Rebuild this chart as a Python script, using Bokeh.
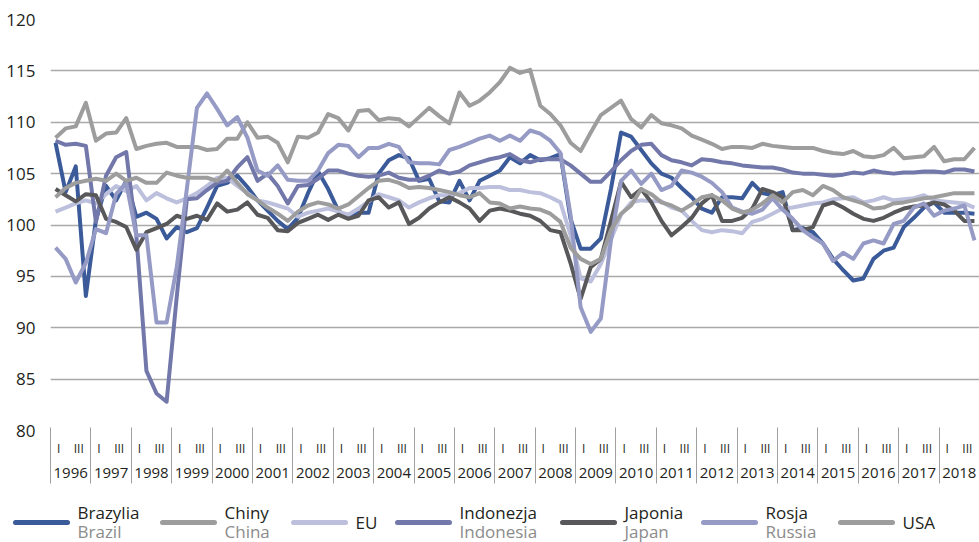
from bokeh.plotting import figure
from bokeh.models import FixedTicker, LinearAxis, Range1d
from bokeh.embed import file_html
from bokeh.resources import INLINE
from bokeh.core.properties import value

years = list(range(1996, 2019))
quarter_labels = {0: "I", 2: "III"}

brazylia = [108.0, 103.2, 105.7, 93.1, 100.5, 103.8, 102.4, 104.3, 100.8, 101.2, 100.6, 98.7,
            99.8, 99.3, 99.7, 101.7, 103.8, 104.1, 104.8, 103.7, 102.4, 101.4, 100.4, 99.6,
            100.7, 103.1, 105.2, 103.5, 101.4, 100.7, 101.2, 101.2, 105.0, 106.3, 106.8, 106.5,
            104.3, 104.5, 102.3, 102.2, 104.3, 102.4, 104.3, 104.8, 105.3, 106.6, 106.0, 106.8,
            106.3, 106.5, 106.9, 100.6, 97.7, 97.7, 98.7, 103.5, 109.0, 108.6, 107.3, 106.0,
            105.0, 104.6, 103.6, 102.7, 101.6, 101.2, 102.7, 102.7, 102.6, 104.1, 103.1, 102.9,
            103.2, 99.5, 99.7, 99.3, 98.2, 96.7, 95.6, 94.6, 94.8, 96.7, 97.5, 97.8,
            99.8, 100.7, 101.7, 102.2, 101.2, 101.2, 101.2, 101.1]
chiny = [108.5, 109.4, 109.6, 111.9, 108.2, 108.9, 109.0, 110.4, 107.4, 107.7, 107.9, 108.0,
         107.6, 107.6, 107.6, 107.3, 107.4, 108.4, 108.4, 110.0, 108.5, 108.6, 108.0, 106.1,
         108.6, 108.5, 109.0, 110.8, 110.4, 109.2, 111.1, 111.2, 110.2, 110.4, 110.3, 109.6,
         110.5, 111.4, 110.6, 109.9, 112.9, 111.6, 112.1, 112.9, 113.9, 115.3, 114.8, 115.1,
         111.6, 110.8, 109.7, 108.0, 107.2, 109.0, 110.7, 111.4, 112.1, 110.3, 109.5, 110.7,
         109.9, 109.7, 109.4, 108.7, 108.3, 107.9, 107.4, 107.6, 107.6, 107.5, 107.9, 107.7,
         107.6, 107.5, 107.5, 107.5, 107.2, 107.0, 106.9, 107.2, 106.7, 106.6, 106.8, 107.5,
         106.5, 106.6, 106.7, 107.6, 106.2, 106.4, 106.4, 107.5]
eu = [101.3, 101.7, 102.1, 102.4, 102.1, 103.0, 103.8, 103.3, 103.8, 102.4, 103.1, 102.6,
      102.2, 102.6, 103.1, 103.8, 104.6, 104.6, 103.8, 103.1, 102.4, 102.2, 101.9, 101.6,
      100.8, 101.2, 101.4, 101.6, 101.3, 101.0, 101.6, 102.3, 103.0, 102.7, 102.4, 101.7,
      102.2, 102.6, 102.9, 102.9, 103.1, 103.6, 103.6, 103.7, 103.7, 103.4, 103.4, 103.2,
      103.1, 102.7, 102.2, 99.0, 94.8, 94.5, 96.2, 98.6, 101.0, 102.2, 102.4, 102.3,
      102.3, 101.7, 101.4, 100.4, 99.5, 99.3, 99.5, 99.4, 99.2, 100.3, 100.6, 101.1,
      101.6, 101.7, 101.9, 102.1, 102.2, 102.5, 102.6, 102.7, 102.2, 102.4, 102.7, 102.4,
      102.5, 102.6, 102.9, 102.4, 102.3, 102.2, 102.1, 101.7]
indonezja = [108.2, 107.8, 107.9, 107.7, 100.3, 104.8, 106.6, 107.1, 99.0, 85.8, 83.6, 82.8,
             93.0, 102.5, 102.6, 103.4, 104.1, 104.3, 105.6, 106.6, 104.3, 105.0, 103.8, 102.1,
             103.8, 103.9, 104.5, 105.3, 105.3, 105.0, 104.8, 104.7, 104.8, 105.1, 104.6, 104.4,
             104.4, 104.8, 105.3, 105.0, 105.2, 105.8, 106.1, 106.4, 106.6, 106.9, 106.3, 106.1,
             106.4, 106.4, 106.4, 105.8, 105.0, 104.2, 104.2, 105.2, 106.3, 107.2, 107.8, 107.9,
             106.8, 106.3, 106.1, 105.8, 106.4, 106.3, 106.1, 106.0, 105.8, 105.7, 105.6, 105.6,
             105.4, 105.1, 105.0, 105.0, 104.9, 104.8, 104.9, 105.1, 105.0, 105.3, 105.1, 105.0,
             105.1, 105.1, 105.2, 105.2, 105.1, 105.4, 105.4, 105.2]
japonia = [103.5, 102.9, 102.3, 103.0, 102.9, 100.6, 100.3, 99.8, 97.6, 99.3, 99.7, 100.1,
           100.9, 100.6, 100.9, 100.5, 102.1, 101.3, 101.5, 102.2, 101.0, 100.7, 99.5, 99.4,
           100.2, 100.6, 101.0, 100.5, 101.0, 100.6, 100.9, 102.4, 102.7, 101.7, 102.2, 100.1,
           100.7, 101.6, 102.2, 102.7, 102.2, 101.6, 100.4, 101.4, 101.6, 101.4, 101.1, 100.9,
           100.4, 99.5, 99.3, 96.3, 92.8, 95.9, 96.7, 100.4, 104.2, 102.7, 103.5, 102.2,
           100.4, 99.0, 99.8, 100.7, 102.1, 102.9, 100.4, 100.4, 100.7, 101.6, 103.5, 103.2,
           102.7, 99.5, 99.5, 99.8, 101.9, 102.2, 101.7, 101.1, 100.6, 100.4, 100.7, 101.2,
           101.6, 101.8, 101.9, 102.2, 102.0, 101.4, 100.4, 100.4]
rosja = [97.8, 96.7, 94.4, 96.3, 99.6, 99.2, 103.0, 104.1, 99.0, 99.0, 90.5, 90.5,
         95.9, 103.5, 111.4, 112.8, 111.3, 109.7, 110.5, 108.5, 105.3, 104.8, 105.8, 104.4,
         104.3, 104.3, 105.3, 107.0, 107.8, 107.7, 106.6, 107.5, 107.5, 107.9, 107.6, 106.1,
         106.0, 106.0, 105.9, 107.3, 107.6, 108.0, 108.4, 108.7, 108.2, 108.7, 108.2, 109.2,
         108.9, 108.2, 107.0, 101.0, 92.0, 89.6, 90.9, 98.5, 104.3, 105.3, 104.0, 105.0,
         103.4, 103.8, 105.3, 105.1, 104.7, 104.1, 103.2, 101.7, 101.3, 101.1, 101.5, 102.6,
         101.5, 100.6, 99.5, 98.8, 98.2, 96.5, 97.3, 96.7, 98.2, 98.5, 98.2, 100.1,
         100.4, 101.7, 102.1, 100.9, 101.4, 101.6, 101.9, 98.5]
usa = [102.7, 103.6, 104.1, 104.3, 104.5, 104.3, 105.0, 104.3, 104.6, 104.1, 104.1, 105.1,
       104.8, 104.6, 104.6, 104.6, 104.3, 105.3, 104.1, 103.0, 102.4, 101.7, 101.1, 100.4,
       101.3, 101.9, 102.2, 102.0, 101.6, 102.0, 102.8, 103.6, 104.3, 104.4, 104.1, 103.6,
       103.7, 103.6, 103.4, 103.2, 102.9, 102.7, 103.1, 102.2, 102.1, 101.6, 101.8, 101.6,
       101.5, 101.1, 100.3, 97.8, 96.7, 96.2, 96.7, 99.5, 101.1, 101.9, 103.5, 103.0,
       102.2, 101.9, 101.4, 102.0, 102.7, 102.9, 102.4, 101.6, 101.2, 101.5, 102.1, 102.9,
       102.2, 103.2, 103.4, 102.9, 103.8, 103.4, 102.7, 102.4, 102.1, 101.6, 101.7, 102.1,
       102.2, 102.4, 102.6, 102.7, 102.9, 103.1, 103.1, 103.1]

series_pl = ["Brazylia", "Chiny", "EU", "Indonezja", "Japonia", "Rosja", "USA"]
series_en = ["Brazil", "China", "", "Indonesia", "Japan", "Russia", ""]
series_vals = [brazylia, chiny, eu, indonezja, japonia, rosja, usa]
colors = ["#3b5a99", "#9d9d9d", "#bcc0dc", "#7378ab", "#58585a", "#969bc6", "#9d9d9d"]
y_ticks = [80, 85, 90, 95, 100, 105, 110, 115, 120]

n = len(years) * 4
xq = list(range(n))
for s in series_vals:
    assert len(s) == n, len(s)

FONT = "Open Sans"
TXT = "#231f20"
W = 979
MAIN_H, LEG_H = 490, 52

p = figure(width=W, height=MAIN_H, output_backend="svg", toolbar_location=None,
           x_range=Range1d(-0.5, n - 0.5), y_range=Range1d(80, 120),
           min_border_left=50, min_border_right=0, min_border_top=19, min_border_bottom=60)
p.outline_line_color = None
p.xgrid.visible = False
p.ygrid.grid_line_color = "#a9a9a9"
p.ygrid.grid_line_width = 1.5

# y axis
p.yaxis.ticker = FixedTicker(ticks=y_ticks)
p.yaxis.axis_line_color = None
p.yaxis.major_tick_line_color = None
p.yaxis.minor_tick_line_color = None
p.yaxis.major_label_standoff = 9
p.yaxis.major_label_text_font = FONT
p.yaxis.major_label_text_font_size = "17px"
p.yaxis.major_label_text_color = TXT

# quarter axis (I / III); its range is nudged so the labels sit like the original's
p.extra_x_ranges = {"qr": Range1d(-0.8, n - 0.8),
                    "yr": Range1d(years[0] - 0.5, years[-1] + 0.5)}
q_ticks = [4 * k + q for k in range(len(years)) for q in quarter_labels]
qa = p.xaxis[0]
qa.x_range_name = "qr"
qa.ticker = FixedTicker(ticks=q_ticks)
qa.major_label_overrides = {t: quarter_labels[t % 4] for t in q_ticks}
qa.axis_line_color = None
qa.major_tick_line_color = None
qa.minor_tick_line_color = None
qa.major_tick_out = 0
qa.major_tick_in = 0
qa.major_label_standoff = 9
qa.major_label_text_font = FONT
qa.major_label_text_font_size = "12px"
qa.major_label_text_color = TXT

# year axis
ya = LinearAxis(x_range_name="yr", ticker=FixedTicker(ticks=years))
ya.axis_line_color = None
ya.major_tick_line_color = None
ya.minor_tick_line_color = None
ya.major_tick_out = 0
ya.major_tick_in = 0
ya.major_label_standoff = 8
ya.major_label_text_font = FONT
ya.major_label_text_font_size = "15px"
ya.major_label_text_color = TXT
p.add_layout(ya, "below")

# year separators: minor ticks of an unlabeled axis reaching up to the plot
boundaries = [y - 0.5 for y in years] + [years[-1] + 0.5]
sa = LinearAxis(x_range_name="yr", ticker=FixedTicker(ticks=[], minor_ticks=boundaries))
sa.axis_line_color = None
sa.major_tick_line_color = None
sa.minor_tick_line_color = "#a0a0a0"
sa.minor_tick_line_width = 1
sa.minor_tick_in = 53
sa.minor_tick_out = 3
sa.major_label_text_font_size = "0px"
p.add_layout(sa, "below")

for vals, c in zip(series_vals, colors):
    p.line(xq, vals, line_color=c, line_width=4, line_join="round")

# legend: a separate strip (own root, pixel coordinates)
leg = figure(width=W, height=LEG_H, output_backend="svg", toolbar_location=None,
             x_range=Range1d(0, W), y_range=Range1d(0, LEG_H),
             min_border_left=0, min_border_right=0, min_border_top=0, min_border_bottom=0,
             x_axis_location=None, y_axis_location=None)
leg.outline_line_color = None
leg.grid.grid_line_color = None
x0s = [15, 162, 293, 397, 562, 703, 840]
LINE_Y, PL_Y, EN_Y = 20, 30, 11.5
for x0, pl, en, c in zip(x0s, series_pl, series_en, colors):
    leg.segment(x0=[x0], y0=[LINE_Y], x1=[x0 + 52], y1=[LINE_Y], line_color=c, line_width=5,
                line_cap="round")
    if en:
        leg.text(x=[x0 + 62], y=[PL_Y], text=[pl], text_font=value(FONT), text_font_size="17px",
                 text_baseline="middle", text_color=TXT)
        leg.text(x=[x0 + 62], y=[EN_Y], text=[en], text_font=value(FONT), text_font_size="17px",
                 text_baseline="middle", text_color="#8c8c8c")
    else:
        leg.text(x=[x0 + 62], y=[LINE_Y], text=[pl], text_font=value(FONT), text_font_size="17px",
                 text_baseline="middle", text_color=TXT)

open("out.html", "w").write(file_html([p, leg], INLINE))
